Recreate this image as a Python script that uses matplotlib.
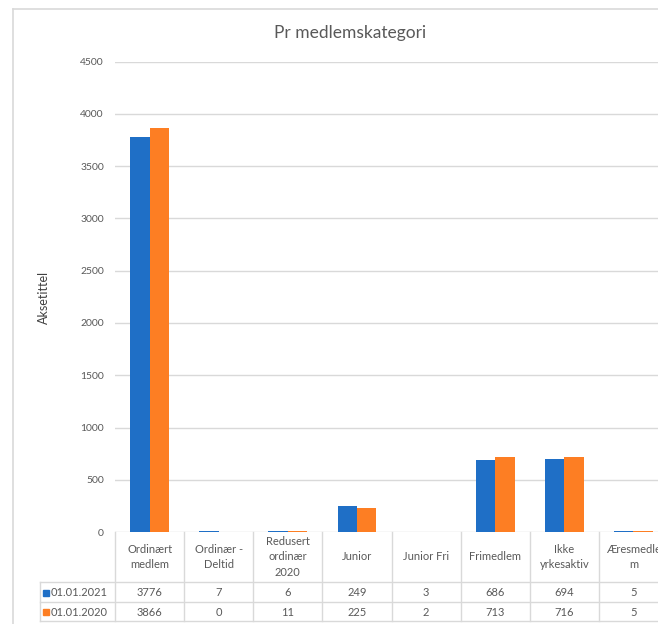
import matplotlib.pyplot as plt
from matplotlib.lines import Line2D
import numpy as np

plt.rcParams['font.family'] = ['Lato', 'DejaVu Sans']

categories = ['Ordinært\nmedlem', 'Ordinær -\nDeltid', 'Redusert\nordinær\n2020', 'Junior',
              'Junior Fri', 'Frimedlem', 'Ikke\nyrkesaktiv', 'Æresmedle\nm']
series_names = ['01.01.2021', '01.01.2020']
values_2021 = [3776, 7, 6, 249, 3, 686, 694, 5]
values_2020 = [3866, 0, 11, 225, 2, 713, 716, 5]
colors = ['#1f6fc6', '#fd7e23']

W, H = 658, 624
txt = '#595959'
grid = '#d9d9d9'

fig = plt.figure(figsize=(W / 100, H / 100), dpi=100)

# chart border (cut on the right/bottom like the screenshot)
fig.add_artist(Line2D([13 / W, 1], [1 - 9 / H, 1 - 9 / H], color='#d9d9d9', lw=1.2))
fig.add_artist(Line2D([13 / W, 13 / W], [0, 1 - 9 / H], color='#d9d9d9', lw=1.2))

# plot area: 8 columns of ~69 px, last one runs past the edge
x0, x1 = 115, 668
y_top, y_zero = 61.75, 532
ax = fig.add_axes([x0 / W, 1 - y_zero / H, (x1 - x0) / W, (y_zero - y_top) / H])

x = np.arange(len(categories))
bw = 0.28
ax.bar(x - bw / 2, values_2021, bw, color=colors[0], label=series_names[0])
ax.bar(x + bw / 2, values_2020, bw, color=colors[1], label=series_names[1])

ax.set_xlim(-0.5, len(categories) - 0.5)
ax.set_ylim(0, 4500)
ax.set_yticks(np.arange(0, 4501, 500))
ax.tick_params(axis='y', length=0, pad=8, labelsize=7.5, labelcolor=txt)
ax.set_xticks([])
ax.grid(axis='y', color=grid, lw=1)
ax.set_axisbelow(True)
for s in ax.spines.values():
    s.set_visible(False)

fig.text(44 / W, 1 - 297 / H, 'Aksetittel', rotation=90, ha='center', va='center',
         fontsize=9, color='#404040')
fig.text(350 / W, 1 - 33 / H, 'Pr medlemskategori', ha='center', va='center',
         fontsize=12.5, color=txt)

# data table under the axis
tax = fig.add_axes([x0 / W, 1 - 621 / H, (x1 - x0) / W, (621 - 532) / H], sharex=ax)
tax.set_ylim(89, 0)
tax.axis('off')
colw = (x1 - x0) / len(categories)
xl = -0.5 - 75 / colw
rows = [0, 50, 70, 89]

for i in range(len(categories) + 1):
    tax.plot([i - 0.5, i - 0.5], [0, 89], color=grid, lw=1, clip_on=False)
for r in rows[1:]:
    tax.plot([xl, len(categories) - 0.5], [r, r], color=grid, lw=1, clip_on=False)
tax.plot([xl, xl], [50, 89], color=grid, lw=1, clip_on=False)

for i, c in enumerate(categories):
    tax.text(i, 25, c, ha='center', va='center', fontsize=8, color=txt,
             linespacing=1.45, clip_on=False)
    tax.text(i, 60.5, str(values_2021[i]), ha='center', va='center', fontsize=8, color=txt)
    tax.text(i, 80, str(values_2020[i]), ha='center', va='center', fontsize=8, color=txt)

for k, (name, r) in enumerate(zip(series_names, [60.5, 80])):
    tax.plot([xl + 6 / colw], [r], marker='s', ms=4, color=colors[k], clip_on=False)
    tax.text(xl + 10.5 / colw, r, name, ha='left', va='center', fontsize=8, color=txt,
             clip_on=False)

plt.savefig('out.png', dpi=100)
